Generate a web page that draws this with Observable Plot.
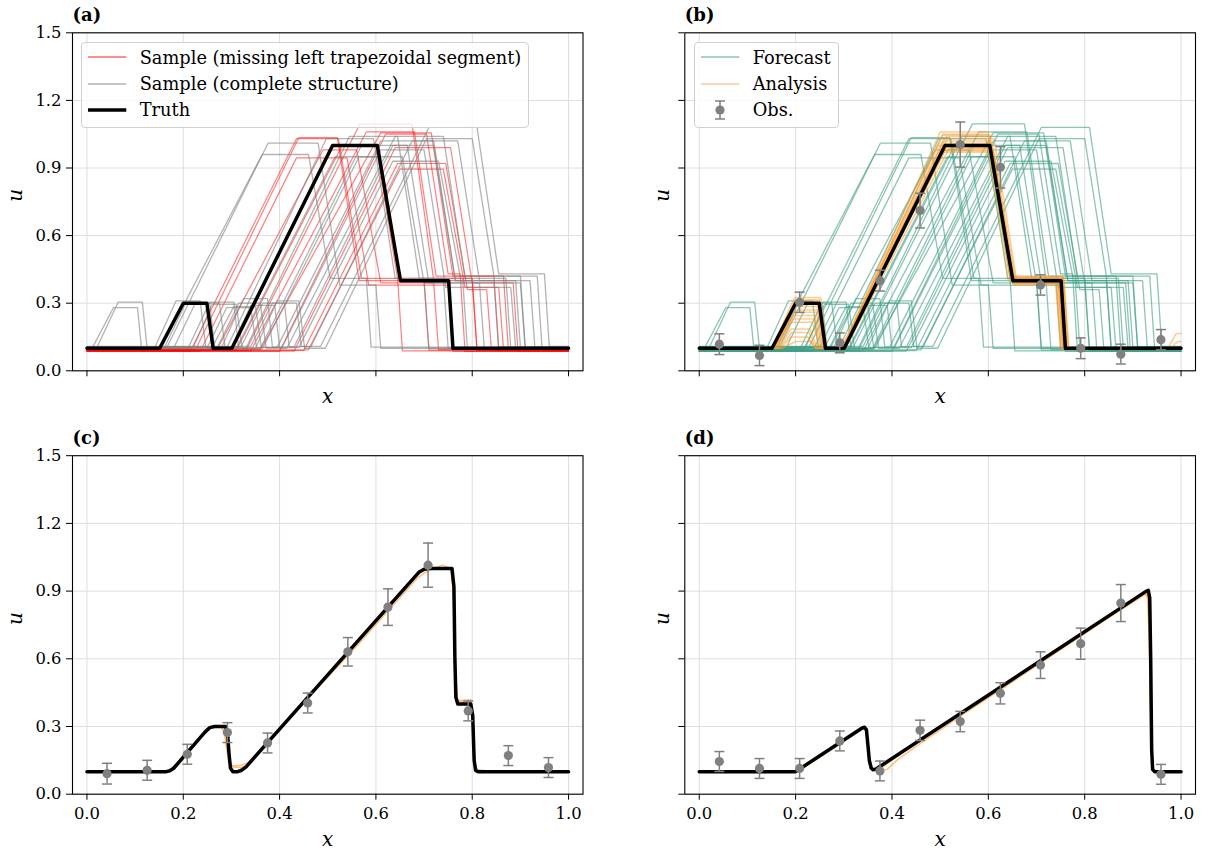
<!DOCTYPE html>
<html><head><meta charset="utf-8">
<script src="https://cdn.jsdelivr.net/npm/d3@7"></script>
<script src="https://cdn.jsdelivr.net/npm/@observablehq/plot@0.6"></script>
<style>
body{margin:0;background:#fff;}
#root{position:relative;width:1212px;height:852px;font-family:"DejaVu Serif",serif;overflow:hidden;}
svg.panel, svg.panel text{font-family:"DejaVu Serif", serif !important;}
.legend{position:absolute;background:rgba(255,255,255,0.8);border:1px solid #d0d0d0;border-radius:4px;font-size:17.8px;color:#000;padding:1.5px 7px 4px 0;font-family:"DejaVu Serif",serif;}
.row{display:flex;align-items:center;height:26.3px;white-space:nowrap;}
.row svg{flex:none;display:block;}
</style></head><body><div id="root"></div><script>
// ---- data ----
const xTicks = [0, 0.2, 0.4, 0.6, 0.8, 1.0];
const yTicks = [0, 0.3, 0.6, 0.9, 1.2, 1.5];
const panelTags = ["(a)", "(b)", "(c)", "(d)"];
const legendA = ["Sample (missing left trapezoidal segment)", "Sample (complete structure)", "Truth"];
const legendB = ["Forecast", "Analysis", "Obs."];

// complete structure knots: [base, s0, s1, s2, s3, h, x4, x5, x6, x7, H, M, x8, x9]
const truthAB = [0.1, 0.151, 0.2, 0.249, 0.262, 0.3, 0.301, 0.51, 0.603, 0.651, 1.0, 0.4, 0.751, 0.76];
// missing left segment knots: [base, x4, x5, x6, x7, H, M, x8, x9]
const redSamples = [
  [0.088, 0.215, 0.435, 0.522, 0.57, 1.03, 0.41, 0.645, 0.655],
  [0.092, 0.225, 0.44, 0.52, 0.565, 1.035, 0.40, 0.70, 0.71],
  [0.086, 0.235, 0.435, 0.54, 0.585, 0.945, 0.38, 0.75, 0.76],
  [0.09, 0.33, 0.567, 0.675, 0.72, 1.096, 0.40, 0.80, 0.81],
  [0.094, 0.36, 0.61, 0.715, 0.76, 1.056, 0.42, 0.865, 0.875],
  [0.087, 0.43, 0.64, 0.755, 0.80, 0.99, 0.39, 0.885, 0.895],
  [0.09, 0.45, 0.645, 0.745, 0.79, 0.92, 0.36, 0.83, 0.84],
  [0.093, 0.46, 0.65, 0.74, 0.785, 0.895, 0.37, 0.855, 0.865],
  [0.086, 0.40, 0.62, 0.705, 0.75, 1.05, 0.43, 0.775, 0.785],
  [0.091, 0.31, 0.53, 0.60, 0.645, 1.0, 0.41, 0.80, 0.81],
  [0.094, 0.27, 0.49, 0.56, 0.61, 0.98, 0.39, 0.72, 0.73],
  [0.088, 0.34, 0.58, 0.68, 0.725, 1.06, 0.42, 0.845, 0.855]
];
const graySamples = [
  [0.10, 0.02, 0.065, 0.115, 0.125, 0.305, 0.165, 0.376, 0.48, 0.525, 1.01, 0.38, 0.60, 0.61],
  [0.105, 0.012, 0.055, 0.105, 0.113, 0.28, 0.155, 0.364, 0.46, 0.505, 0.96, 0.41, 0.58, 0.59],
  [0.10, 0.14, 0.185, 0.235, 0.247, 0.31, 0.29, 0.497, 0.595, 0.64, 1.03, 0.41, 0.74, 0.75],
  [0.108, 0.34, 0.385, 0.435, 0.445, 0.30, 0.485, 0.71, 0.81, 0.855, 1.08, 0.43, 0.95, 0.96],
  [0.10, 0.27, 0.315, 0.36, 0.372, 0.30, 0.415, 0.64, 0.74, 0.785, 1.04, 0.41, 0.87, 0.88],
  [0.104, 0.25, 0.29, 0.34, 0.352, 0.28, 0.395, 0.61, 0.72, 0.765, 1.02, 0.40, 0.92, 0.93],
  [0.10, 0.22, 0.26, 0.31, 0.322, 0.295, 0.365, 0.565, 0.655, 0.70, 0.95, 0.39, 0.90, 0.91],
  [0.106, 0.28, 0.325, 0.375, 0.385, 0.32, 0.43, 0.635, 0.72, 0.765, 1.0, 0.40, 0.845, 0.855],
  [0.10, 0.21, 0.255, 0.305, 0.315, 0.305, 0.36, 0.57, 0.665, 0.71, 1.0, 0.39, 0.815, 0.825],
  [0.103, 0.30, 0.34, 0.39, 0.40, 0.29, 0.44, 0.635, 0.73, 0.775, 0.93, 0.42, 0.90, 0.91],
  [0.10, 0.18, 0.225, 0.275, 0.287, 0.30, 0.33, 0.545, 0.645, 0.69, 1.04, 0.41, 0.78, 0.79],
  [0.107, 0.32, 0.365, 0.41, 0.42, 0.30, 0.465, 0.675, 0.77, 0.815, 1.02, 0.40, 0.89, 0.90],
  [0.10, 0.35, 0.395, 0.44, 0.452, 0.31, 0.495, 0.705, 0.80, 0.845, 1.03, 0.42, 0.935, 0.945],
  [0.104, 0.26, 0.305, 0.35, 0.362, 0.285, 0.405, 0.61, 0.70, 0.745, 0.98, 0.37, 0.88, 0.89],
  [0.10, 0.16, 0.205, 0.255, 0.265, 0.30, 0.31, 0.515, 0.605, 0.65, 0.95, 0.40, 0.70, 0.71]
];
const analysisB = [
  [0.1, 0.15, 0.2, 0.25, 0.263, 0.31, 0.298, 0.505, 0.60, 0.648, 1.05, 0.41, 0.752, 0.762],
  [0.1, 0.152, 0.2, 0.245, 0.258, 0.27, 0.30, 0.51, 0.605, 0.65, 0.98, 0.39, 0.748, 0.758],
  [0.1, 0.155, 0.195, 0.24, 0.255, 0.245, 0.302, 0.512, 0.608, 0.655, 1.0, 0.40, 0.745, 0.755],
  [0.1, 0.16, 0.19, 0.235, 0.25, 0.215, 0.296, 0.50, 0.60, 0.645, 1.06, 0.42, 0.755, 0.765],
  [0.1, 0.165, 0.19, 0.23, 0.245, 0.186, 0.30, 0.508, 0.61, 0.652, 0.97, 0.38, 0.74, 0.75],
  [0.1, 0.17, 0.19, 0.225, 0.24, 0.15, 0.303, 0.515, 0.612, 0.658, 1.03, 0.41, 0.75, 0.76],
  [0.1, 0.15, 0.198, 0.252, 0.265, 0.325, 0.297, 0.505, 0.602, 0.647, 1.02, 0.40, 0.757, 0.767],
  [0.1, 0.153, 0.2, 0.248, 0.262, 0.30, 0.30, 0.51, 0.606, 0.653, 0.99, 0.395, 0.747, 0.757],
  [0.1, 0.158, 0.198, 0.243, 0.256, 0.26, 0.301, 0.512, 0.604, 0.65, 1.04, 0.415, 0.753, 0.763],
  [0.1, 0.162, 0.193, 0.238, 0.252, 0.23, 0.295, 0.495, 0.598, 0.642, 1.0, 0.40, 0.744, 0.754],
  [0.1, 0.151, 0.2, 0.25, 0.263, 0.315, 0.299, 0.506, 0.603, 0.649, 1.01, 0.405, 0.752, 0.762],
  [0.1, 0.156, 0.197, 0.246, 0.26, 0.285, 0.304, 0.518, 0.61, 0.657, 0.985, 0.392, 0.742, 0.752],
  [0.1, 0.167, 0.192, 0.228, 0.242, 0.17, 0.299, 0.505, 0.601, 0.646, 1.045, 0.418, 0.756, 0.766],
  [0.1, 0.172, 0.2, 0.23, 0.244, 0.13, 0.30, 0.509, 0.607, 0.654, 0.975, 0.385, 0.746, 0.756]
];
const analysisBTail = [
  [[0.972, 0.1], [0.99, 0.165], [1.0, 0.165]],
  [[0.978, 0.1], [0.993, 0.13], [1.0, 0.13]]
];

const obsX = [0.0417, 0.125, 0.2083, 0.2917, 0.375, 0.4583, 0.5417, 0.625, 0.7083, 0.7917, 0.875, 0.9583];
const obsB = [0.118, 0.068, 0.304, 0.124, 0.40, 0.711, 1.004, 0.903, 0.381, 0.10, 0.074, 0.138];
const errB = [0.046, 0.045, 0.045, 0.044, 0.046, 0.077, 0.10, 0.092, 0.045, 0.046, 0.044, 0.045];
const obsC = [0.091, 0.106, 0.177, 0.273, 0.227, 0.404, 0.631, 0.829, 1.015, 0.369, 0.171, 0.118];
const errC = [0.046, 0.044, 0.044, 0.044, 0.044, 0.044, 0.063, 0.081, 0.098, 0.044, 0.044, 0.044];
const obsD = [0.145, 0.114, 0.114, 0.236, 0.103, 0.283, 0.322, 0.447, 0.572, 0.667, 0.847, 0.088];
const errD = [0.044, 0.044, 0.044, 0.044, 0.044, 0.045, 0.045, 0.047, 0.059, 0.069, 0.082, 0.044];

const truthC = [[0,0.1],[0.165,0.1],[0.172,0.104],[0.18,0.115],[0.245,0.275],[0.255,0.295],[0.265,0.3],[0.288,0.3],[0.292,0.27],[0.295,0.18],[0.298,0.115],[0.303,0.1],[0.313,0.1],[0.32,0.105],[0.33,0.12],[0.69,0.985],[0.70,0.997],[0.71,1.0],[0.758,1.0],[0.762,0.92],[0.764,0.6],[0.766,0.43],[0.77,0.4],[0.797,0.4],[0.801,0.35],[0.804,0.15],[0.807,0.105],[0.812,0.1],[1.0,0.1]];
const analysisC = [
  [[0,0.1],[0.168,0.1],[0.18,0.112],[0.25,0.285],[0.262,0.3],[0.28,0.295],[0.286,0.26],[0.29,0.2],[0.295,0.14],[0.302,0.125],[0.32,0.128],[0.335,0.14],[0.45,0.405],[0.55,0.632],[0.62,0.80],[0.685,0.955],[0.70,0.98],[0.72,1.0],[0.738,1.015],[0.755,1.0],[0.761,0.9],[0.765,0.55],[0.769,0.42],[0.775,0.415],[0.797,0.42],[0.801,0.34],[0.805,0.14],[0.81,0.11],[0.825,0.105],[0.84,0.1],[1,0.1]],
  [[0,0.1],[0.17,0.1],[0.182,0.11],[0.248,0.28],[0.26,0.296],[0.284,0.298],[0.29,0.24],[0.296,0.15],[0.303,0.12],[0.318,0.118],[0.332,0.13],[0.46,0.432],[0.57,0.697],[0.64,0.865],[0.695,0.99],[0.712,0.998],[0.745,1.005],[0.757,0.995],[0.762,0.85],[0.766,0.5],[0.77,0.41],[0.798,0.41],[0.802,0.3],[0.806,0.13],[0.811,0.102],[1,0.1]]
];
const truthD = [[0,0.1],[0.2,0.1],[0.338,0.293],[0.343,0.297],[0.347,0.285],[0.35,0.22],[0.353,0.15],[0.357,0.115],[0.361,0.108],[0.367,0.112],[0.37,0.116],[0.928,0.9],[0.932,0.903],[0.935,0.87],[0.937,0.6],[0.939,0.2],[0.941,0.11],[0.945,0.1],[1,0.1]];
const analysisD = [
  [[0,0.1],[0.205,0.1],[0.34,0.29],[0.346,0.285],[0.35,0.2],[0.354,0.13],[0.36,0.11],[0.375,0.105],[0.39,0.11],[0.41,0.15],[0.45,0.212],[0.55,0.357],[0.65,0.498],[0.72,0.598],[0.74,0.626],[0.85,0.782],[0.92,0.878],[0.928,0.885],[0.932,0.86],[0.935,0.6],[0.938,0.2],[0.941,0.11],[0.945,0.1],[1,0.1]],
  [[0,0.1],[0.2,0.1],[0.34,0.295],[0.346,0.29],[0.35,0.22],[0.354,0.14],[0.36,0.115],[0.372,0.112],[0.385,0.128],[0.42,0.182],[0.55,0.373],[0.7,0.583],[0.82,0.752],[0.925,0.895],[0.93,0.88],[0.934,0.7],[0.937,0.3],[0.94,0.12],[0.945,0.1],[1,0.1]]
];

// ---- colours ----
const C = {red: "#ff0000", gray: "#808080", forecast: "#3f9f85", analysis: "#fb9a29", obs: "#808080", truth: "#000000", grid: "#dedede"};

// ---- helpers ----
function completeKnots(p) { const [b,s0,s1,s2,s3,h,x4,x5,x6,x7,H,M,x8,x9] = p;
  return [[0,b],[s0,b],[s1,h],[s2,h],[s3,b],[x4,b],[x5,H],[x6,H],[x7,M],[x8,M],[x9,b],[1,b]]; }
function missingKnots(p) { const [b,x4,x5,x6,x7,H,M,x8,x9] = p;
  return [[0,b],[x4,b],[x5,H],[x6,H],[x7,M],[x8,M],[x9,b],[1,b]]; }
function rows(curves, prefix) { return curves.flatMap((pts, i) => pts.map(([x,u]) => ({id: prefix + i, x, u}))); }
function obsRows(vals, errs) { return obsX.map((x, i) => ({x, u: vals[i], e: errs[i]})); }
const capSymbol = {draw(ctx, size) { const r = Math.sqrt(size / Math.PI); ctx.moveTo(-r, 0); ctx.lineTo(r, 0); }};
function obsMarks(data) {
  return [
    Plot.ruleX(data, {x: "x", y1: d => d.u - d.e, y2: d => d.u + d.e, stroke: C.obs, strokeWidth: 1.5}),
    Plot.dot(data, {x: "x", y: d => d.u - d.e, symbol: capSymbol, r: 5, stroke: C.obs, fill: "none", strokeWidth: 1.5}),
    Plot.dot(data, {x: "x", y: d => d.u + d.e, symbol: capSymbol, r: 5, stroke: C.obs, fill: "none", strokeWidth: 1.5}),
    Plot.dot(data, {x: "x", y: "u", r: 4.6, fill: C.obs, stroke: "none"})
  ];
}
const fmt = d => d.toFixed(1);

function panel({left, top, width, height, ml, mr, mt, mb, xLabels, yLabels, tag, uDx, xDy, marks}) {
  const svg = Plot.plot({
    width, height, marginLeft: ml, marginRight: mr, marginTop: mt, marginBottom: mb,
    style: {fontFamily: '"DejaVu Serif", serif', fontSize: "16.4px", color: "black", background: "white", overflow: "visible"},
    x: {domain: [-0.03, 1.03]},
    y: {domain: [0, 1.5]},
    marks: [
      Plot.gridX(xTicks, {stroke: C.grid, strokeOpacity: 1, strokeWidth: 1}),
      Plot.gridY(yTicks, {stroke: C.grid, strokeOpacity: 1, strokeWidth: 1}),
      ...marks,
      Plot.frame({stroke: "black", strokeWidth: 1.1}),
      Plot.axisX(xTicks, {tickSize: 6, tickPadding: 7, tickFormat: xLabels ? fmt : () => "", label: null, fontSize: 16.4, stroke: "black"}),
      Plot.axisY(yTicks, {tickSize: 6, tickPadding: 5, tickFormat: yLabels ? fmt : () => "", label: null, fontSize: 16.4, stroke: "black"}),
      Plot.text(["x"], {text: d => d, frameAnchor: "bottom", dy: xDy, lineAnchor: "bottom", fontStyle: "italic", fontSize: 20}),
      Plot.text(["u"], {text: d => d, frameAnchor: "left", dx: uDx, rotate: -90, lineAnchor: "bottom", fontStyle: "italic", fontSize: 20}),
      Plot.text([tag], {text: d => d, frameAnchor: "top-left", dy: -11.5, lineAnchor: "bottom", textAnchor: "start", fontWeight: "bold", fontSize: 18})
    ]
  });
  svg.classList.add("panel");
  svg.style.left = left + "px";
  svg.style.top = top + "px";
  svg.style.position = "absolute";
  document.getElementById("root").appendChild(svg);
}

const truthABRows = rows([completeKnots(truthAB)], "t");
const redRows = rows(redSamples.map(missingKnots), "r");
const grayRows = rows(graySamples.map(completeKnots), "g");
const forecastRows = rows([...redSamples.map(missingKnots), ...graySamples.map(completeKnots)], "f");
const analysisBRows = rows([...analysisB.map(completeKnots), ...analysisBTail], "a");

const L = {left: 0, width: 606, ml: 72, mr: 23.5, uDx: -51};
const R = {left: 606, width: 606, ml: 78.3, mr: 17, uDx: -16};
const T = {top: 0, height: 424, mt: 32.3, mb: 53.7, xDy: 32};
const B = {top: 424, height: 428, mt: 31.2, mb: 58.3, xDy: 52};

panel({...L, ...T, xLabels: false, yLabels: true, tag: panelTags[0], marks: [
  Plot.line(redRows, {x: "x", y: "u", z: "id", stroke: C.red, strokeOpacity: 0.5, strokeWidth: 1.2}),
  Plot.line(grayRows, {x: "x", y: "u", z: "id", stroke: C.gray, strokeOpacity: 0.6, strokeWidth: 1.3}),
  Plot.line(truthABRows, {x: "x", y: "u", z: "id", stroke: C.truth, strokeWidth: 3.5})
]});
panel({...R, ...T, xLabels: false, yLabels: false, tag: panelTags[1], marks: [
  Plot.line(forecastRows, {x: "x", y: "u", z: "id", stroke: C.forecast, strokeOpacity: 0.6, strokeWidth: 1.3}),
  Plot.line(analysisBRows, {x: "x", y: "u", z: "id", stroke: C.analysis, strokeOpacity: 0.5, strokeWidth: 1.5}),
  Plot.line(truthABRows, {x: "x", y: "u", z: "id", stroke: C.truth, strokeWidth: 3.5}),
  ...obsMarks(obsRows(obsB, errB))
]});
panel({...L, ...B, xLabels: true, yLabels: true, tag: panelTags[2], marks: [
  Plot.line(rows(analysisC, "a"), {x: "x", y: "u", z: "id", stroke: C.analysis, strokeOpacity: 0.6, strokeWidth: 1.5}),
  Plot.line(rows([truthC], "t"), {x: "x", y: "u", z: "id", stroke: C.truth, strokeWidth: 3.5}),
  ...obsMarks(obsRows(obsC, errC))
]});
panel({...R, ...B, xLabels: true, yLabels: false, tag: panelTags[3], marks: [
  Plot.line(rows(analysisD, "a"), {x: "x", y: "u", z: "id", stroke: C.analysis, strokeOpacity: 0.6, strokeWidth: 1.5}),
  Plot.line(rows([truthD], "t"), {x: "x", y: "u", z: "id", stroke: C.truth, strokeWidth: 3.5}),
  ...obsMarks(obsRows(obsD, errD))
]});

// ---- legends ----
function lineSwatch(color, opacity, w) {
  return `<svg width="58" height="26"><line x1="6" x2="44.3" y1="13" y2="13" stroke="${color}" stroke-opacity="${opacity}" stroke-width="${w}"/></svg>`;
}
function obsSwatch() {
  return `<svg width="58" height="26"><g stroke="${C.obs}" stroke-width="1.5"><line x1="25" x2="25" y1="4" y2="22"/><line x1="20" x2="30" y1="4" y2="4"/><line x1="20" x2="30" y1="22" y2="22"/></g><circle cx="25" cy="13" r="4.6" fill="${C.obs}"/></svg>`;
}
function legend(left, top, items) {
  const div = document.createElement("div");
  div.className = "legend";
  div.style.left = left + "px"; div.style.top = top + "px";
  div.innerHTML = items.map(([sw, label]) => `<div class="row">${sw}<span>${label}</span></div>`).join("");
  document.getElementById("root").appendChild(div);
}
legend(80.7, 41.7, [
  [lineSwatch(C.red, 0.6, 1.6), legendA[0]],
  [lineSwatch(C.gray, 0.6, 1.6), legendA[1]],
  [lineSwatch(C.truth, 1, 3.4), legendA[2]]
]);
legend(693.7, 41.7, [
  [lineSwatch(C.forecast, 0.6, 1.6), legendB[0]],
  [lineSwatch(C.analysis, 0.5, 1.6), legendB[1]],
  [obsSwatch(), legendB[2]]
]);
</script></body></html>
